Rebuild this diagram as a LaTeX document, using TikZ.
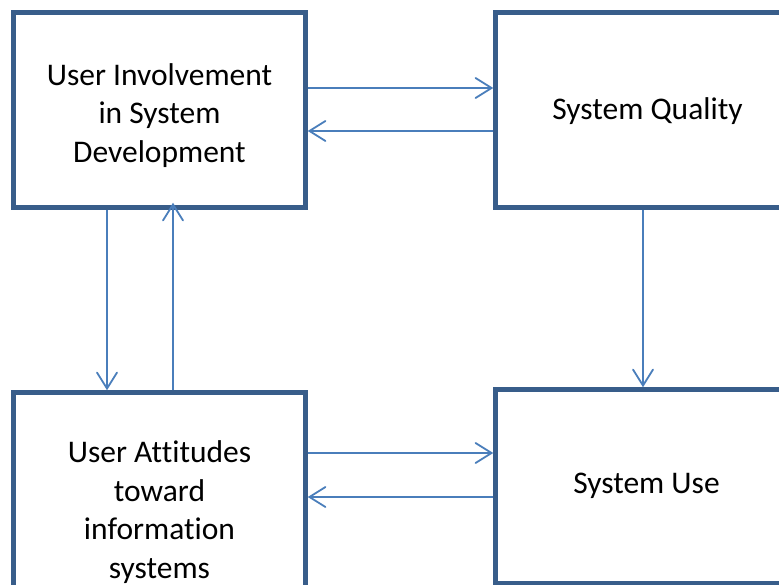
\documentclass[tikz,border=0pt]{standalone}
\usepackage{fontspec}
\setmainfont{Carlito}[Ligatures=NoCommon]
\usetikzlibrary{arrows.meta}
\definecolor{boxline}{HTML}{385D8A}
\definecolor{linkline}{HTML}{4A7EBB}
\tikzset{
  block/.style={draw=boxline, line width=4.5pt, fill=white, rectangle,
    minimum width=#1, minimum height=195pt, inner sep=0pt},
  block/.default=292pt,
  label text/.style={align=center, inner sep=0pt, text=black,
    font=\fontsize{31.5}{38.5}\selectfont},
  link/.style={draw=linkline, line width=1.8pt,
    -{Straight Barb[length=16pt,width=20pt,line cap=round]}}
}
\begin{document}
\begin{tikzpicture}[x=1pt, y=-1pt]
  \useasboundingbox (0,0) rectangle (779,585);

  % the four boxes
  \node[block] (tl) at (159.5,110) {};
  \node[block=303.5pt] (tr) at (647.25,110) {};
  \node[block] (bl) at (159.5,490) {};
  \node[block=303.5pt, minimum height=194pt] (br) at (647.25,486.5) {};

  % box captions
  \node[label text] (tltext) at (159.5,115.5) {User Involvement\\in System\\Development};
  \node[label text] (trtext) at (647.5,111.5) {System Quality};
  \node[label text] (bltext) at (159.5,512) {User Attitudes\\toward\\information\\systems};
  \node[label text] (brtext) at (646.5,486) {System Use};

  % links between the top boxes
  \draw[link] (tl.east |- 0,88) -- (tr.west |- 0,88);
  \draw[link] (tr.west |- 0,131) -- (tl.east |- 0,131);

  % links between the left boxes
  \draw[link] (tl.south -| 107,0) -- (bl.north -| 107,0);
  \draw[link, shorten >=-7pt] (bl.north -| 173,0) -- (tl.south -| 173,0);

  % quality feeds use
  \draw[link] (tr.south -| 643,0) -- (br.north -| 643,0);

  % links between the bottom boxes
  \draw[link] (bl.east |- 0,453) -- (br.west |- 0,453);
  \draw[link] (br.west |- 0,497) -- (bl.east |- 0,497);
\end{tikzpicture}
\end{document}
